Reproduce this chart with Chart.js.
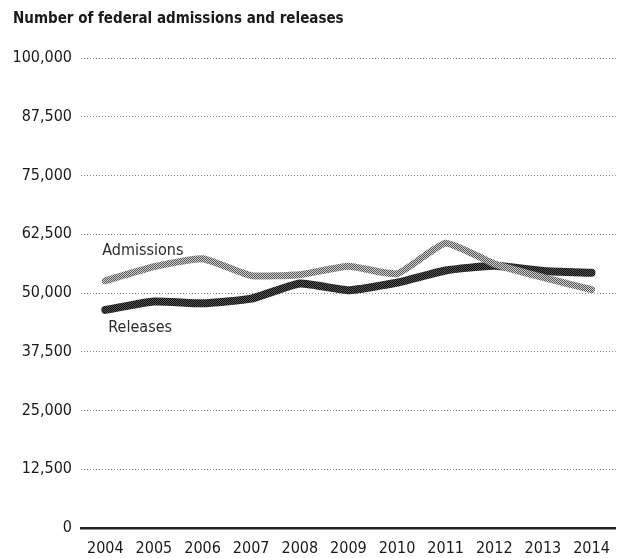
<!DOCTYPE html>
<html>
<head>
<meta charset="utf-8">
<script src="https://cdn.jsdelivr.net/npm/chart.js@4/dist/chart.umd.min.js"></script>
<style>
  html, body { margin: 0; padding: 0; background: #fff; }
  #wrap { width: 621px; height: 558px; }
</style>
</head>
<body>
<div id="wrap"><canvas id="flowChart"></canvas></div>
<script>
// federal prison admissions / releases
const years = ['2004', '2005', '2006', '2007', '2008', '2009', '2010', '2011', '2012', '2013', '2014'];
const admissions = [52600, 55600, 57300, 53700, 53900, 55700, 54100, 60600, 56200, 53300, 50700];
const releases = [46400, 48200, 47800, 48800, 52000, 50600, 52200, 54800, 55800, 54700, 54300];
const yTicks = [0, 12500, 25000, 37500, 50000, 62500, 75000, 87500, 100000];

const FONT = "'Liberation Sans Narrow', 'DejaVu Sans Condensed', 'Roboto Condensed', sans-serif";

// small checker pattern to mimic the halftone print look
function halftone(a, b) {
    const c = document.createElement('canvas');
    c.width = 2; c.height = 2;
    const g = c.getContext('2d');
    g.fillStyle = b; g.fillRect(0, 0, 2, 2);
    g.fillStyle = a; g.fillRect(0, 0, 1, 1); g.fillRect(1, 1, 1, 1);
    return g.createPattern(c, 'repeat');
}

// series names written next to the lines
const lineLabels = {
    id: 'lineLabels',
    afterDatasetsDraw(chart) {
        const ctx = chart.ctx;
        const x = chart.scales.x.getPixelForValue(0);
        const yA = chart.scales.y.getPixelForValue(admissions[0]);
        const yR = chart.scales.y.getPixelForValue(releases[0]);
        ctx.save();
        ctx.font = '16px ' + FONT;
        ctx.fillStyle = '#2b2b2b';
        ctx.textAlign = 'left';
        ctx.textBaseline = 'middle';
        ctx.fillText('Admissions', x - 3, yA - 30);
        ctx.fillText('Releases', x + 3, yR + 18);
        ctx.restore();
    }
};

new Chart(document.getElementById('flowChart'), {
    type: 'line',
    data: {
        labels: years,
        datasets: [{
            label: 'Admissions',
            data: admissions,
            borderColor: halftone('#555555', '#d0d0d0'),
            borderWidth: 7,
            tension: 0.15,
            pointRadius: 0,
            borderCapStyle: 'round',
            borderJoinStyle: 'round'
        }, {
            label: 'Releases',
            data: releases,
            borderColor: halftone('#0d0d0d', '#555555'),
            borderWidth: 8,
            tension: 0.15,
            pointRadius: 0,
            borderCapStyle: 'round',
            borderJoinStyle: 'round'
        }]
    },
    options: {
        responsive: true,
        maintainAspectRatio: false,
        animation: false,
        layout: { padding: { left: 13, right: 4, bottom: 0 } },
        plugins: {
            legend: { display: false },
            tooltip: { enabled: false },
            title: {
                display: true,
                text: 'Number of federal admissions and releases',
                align: 'start',
                color: '#1a1a1a',
                font: { family: FONT, size: 15, weight: 'bold' },
                padding: { top: 10, bottom: 30 }
            }
        },
        scales: {
            x: {
                offset: true,
                afterFit(scale) { scale.height = 30; },
                grid: { display: false, drawTicks: false },
                border: { display: true, color: '#222', width: 2.5 },
                ticks: { color: '#1a1a1a', font: { family: FONT, size: 16 }, padding: 11, maxRotation: 0 }
            },
            y: {
                min: 0,
                max: 100000,
                afterFit(scale) { scale.width = 68; },
                afterBuildTicks(scale) { scale.ticks = yTicks.map(v => ({ value: v })); },
                grid: { color: '#8a8a8a', lineWidth: 1, drawTicks: false },
                border: { display: false, dash: [1, 2] },
                ticks: {
                    color: '#1a1a1a',
                    font: { family: FONT, size: 16 },
                    padding: 9,
                    callback: v => v.toLocaleString('en-US')
                }
            }
        }
    },
    plugins: [lineLabels]
});
</script>
</body>
</html>
